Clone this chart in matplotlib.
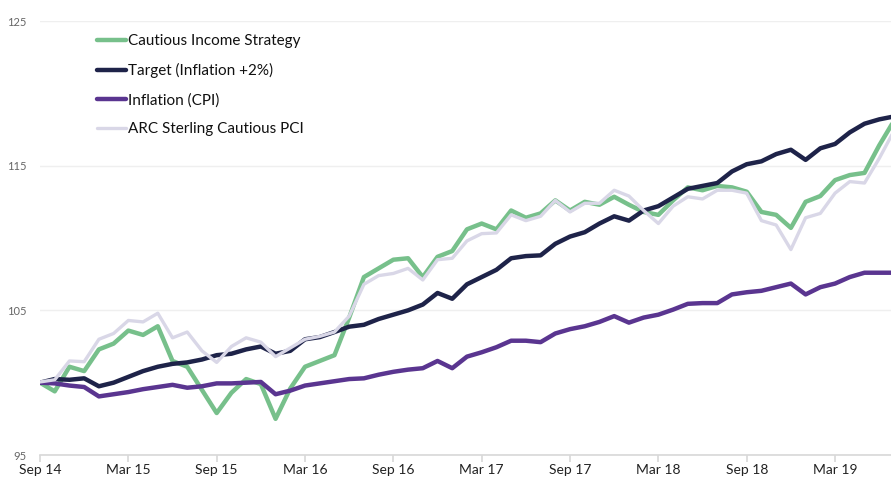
import numpy as np
import matplotlib
matplotlib.use('Agg')
import matplotlib.pyplot as plt

# monthly values, Sep 14 .. Jul 19 (rebased to 100)
months = np.arange(59)
tick_pos = [0, 6, 12, 18, 24, 30, 36, 42, 48, 54]
tick_labels = ["Sep 14", "Mar 15", "Sep 15", "Mar 16", "Sep 16",
               "Mar 17", "Sep 17", "Mar 18", "Sep 18", "Mar 19"]

cautious = [100.0, 99.4, 101.1, 100.8, 102.3, 102.7, 103.6, 103.3, 103.9, 101.5,
            101.1, 99.5, 97.9, 99.3, 100.25, 99.9, 97.5, 99.6, 101.1, 101.5,
            101.9, 104.5, 107.3, 107.9, 108.5, 108.6, 107.3, 108.7, 109.1, 110.6,
            111.0, 110.6, 111.9, 111.4, 111.7, 112.6, 111.9, 112.5, 112.3, 112.85,
            112.3, 111.8, 111.6, 112.6, 113.5, 113.3, 113.6, 113.5, 113.2, 111.8,
            111.6, 110.7, 112.5, 112.9, 114.0, 114.35, 114.5, 116.4, 118.1]

target = [100.0, 100.25, 100.2, 100.3, 99.75, 100.0, 100.4, 100.8, 101.1, 101.3,
          101.4, 101.6, 101.9, 102.0, 102.3, 102.5, 102.0, 102.2, 103.0, 103.15,
          103.5, 103.87, 104.0, 104.4, 104.7, 105.0, 105.4, 106.2, 105.8, 106.8,
          107.3, 107.8, 108.6, 108.75, 108.8, 109.6, 110.1, 110.4, 111.0, 111.5,
          111.2, 111.9, 112.2, 112.8, 113.4, 113.6, 113.8, 114.6, 115.1, 115.3,
          115.8, 116.1, 115.4, 116.2, 116.5, 117.3, 117.9, 118.2, 118.4]

cpi = [100.0, 99.95, 99.8, 99.7, 99.05, 99.2, 99.35, 99.55, 99.7, 99.85,
       99.65, 99.75, 99.95, 99.95, 100.0, 100.05, 99.2, 99.45, 99.8, 99.95,
       100.1, 100.25, 100.3, 100.55, 100.75, 100.9, 101.0, 101.5, 101.0, 101.8,
       102.1, 102.45, 102.9, 102.9, 102.8, 103.4, 103.7, 103.9, 104.2, 104.6,
       104.15, 104.5, 104.7, 105.05, 105.45, 105.5, 105.5, 106.1, 106.25, 106.35,
       106.6, 106.85, 106.1, 106.6, 106.85, 107.3, 107.6, 107.6, 107.6]

arc = [100.05, 100.2, 101.5, 101.45, 103.0, 103.4, 104.3, 104.2, 104.8, 103.1,
       103.5, 102.2, 101.4, 102.5, 103.1, 102.8, 101.8, 102.4, 103.0, 103.2,
       103.5, 104.6, 106.8, 107.4, 107.55, 107.9, 107.1, 108.5, 108.6, 109.8,
       110.3, 110.35, 111.6, 111.2, 111.5, 112.6, 111.8, 112.4, 112.4, 113.3,
       112.9, 111.9, 111.0, 112.2, 112.85, 112.7, 113.3, 113.3, 113.1, 111.2,
       110.9, 109.2, 111.4, 111.7, 113.1, 113.9, 113.8, 115.5, 117.4]

plt.rcParams['font.family'] = ['Lato', 'DejaVu Sans']

fig = plt.figure(figsize=(8.91, 4.79), dpi=100)
ax = fig.add_axes([40/891, 24/479, 851/891, 434/479])

kw = dict(solid_joinstyle='round', solid_capstyle='round')
ax.plot(months, cautious, color="#77c08b", lw=3.2, label="Cautious Income Strategy", **kw)
ax.plot(months, target, color="#1e2349", lw=3.2, label="Target (Inflation +2%)", **kw)
ax.plot(months, cpi, color="#5a3590", lw=3.2, label="Inflation (CPI)", **kw)
ax.plot(months, arc, color="#d9d7e7", lw=2.4, label="ARC Sterling Cautious PCI", **kw)

ax.set_xlim(0, 57.8)
ax.set_ylim(95, 125)
ax.set_yticks([95, 105, 115, 125])
ax.set_xticks(tick_pos)
ax.set_xticklabels(tick_labels)

ax.grid(axis='y', color="#efefef", lw=1)
ax.set_axisbelow(True)
for s in ['top', 'right', 'left']:
    ax.spines[s].set_visible(False)
ax.spines['bottom'].set_color("#d8d8d8")
ax.spines['bottom'].set_linewidth(1.2)
ax.tick_params(axis='x', colors="#d8d8d8", length=5, width=1.2, labelcolor="#222222",
               labelsize=10, pad=1.5)
ax.tick_params(axis='y', length=0, labelcolor="#666666", labelsize=8, pad=10)

ax.legend(loc='upper left', bbox_to_anchor=(0.058, 0.987), frameon=False,
          fontsize=11, handlelength=1.9, handletextpad=0.12, labelspacing=0.97,
          borderpad=0, labelcolor="#111111")

fig.savefig("out.png", dpi=100)
